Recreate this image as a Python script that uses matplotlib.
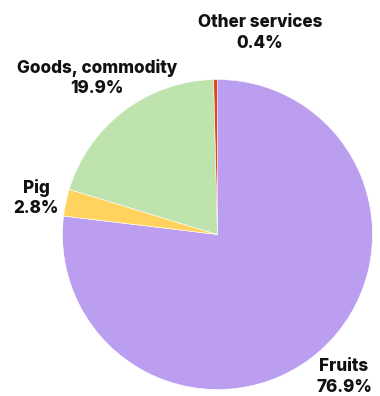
import matplotlib
matplotlib.use("Agg")
import matplotlib.pyplot as plt

categories = ["Fruits", "Pig", "Goods, commodity", "Other services"]
values = [76.9, 2.8, 19.9, 0.4]
colors = ["#bb9ef0", "#ffd35e", "#bee3ad", "#d9462a"]

W, H = 380, 396
cx, cy, R = 217.5, 234.5, 155.0

fig = plt.figure(figsize=(W / 100, H / 100), dpi=100)
ax = fig.add_axes([(cx - R) / W, (H - cy - R) / H, 2 * R / W, 2 * R / H])
ax.pie(values, colors=colors, startangle=90, counterclock=False, radius=1,
       wedgeprops=dict(linewidth=0.4, edgecolor="white"))
ax.set_xlim(-1, 1)
ax.set_ylim(-1, 1)
ax.set_aspect("equal")
ax.axis("off")

# label positions in pixels (layout)
label_px = {
    "Fruits": (344, 377),
    "Pig": (36, 198),
    "Goods, commodity": (97, 78),
    "Other services": (260, 33),
}
for cat, v in zip(categories, values):
    px, py = label_px[cat]
    x = (px - cx) / R
    y = (cy - py) / R
    ax.text(x, y, f"{cat}\n{v:.1f}%", ha="center", va="center",
            fontsize=12.3, fontweight="heavy", family=["Inter", "DejaVu Sans"],
            linespacing=1.3, color="#111111", clip_on=False)

fig.savefig("out.png", dpi=100)
